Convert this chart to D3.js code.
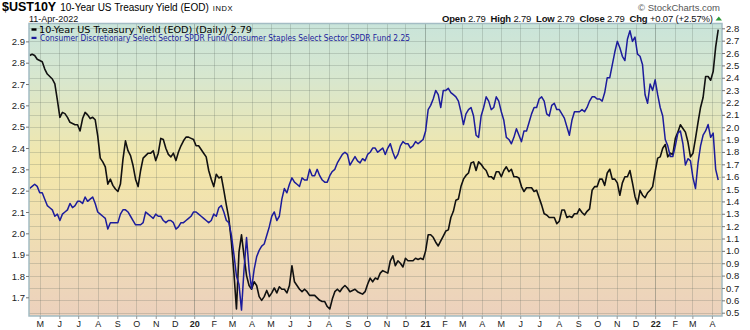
<!DOCTYPE html>
<html>
<head>
<meta charset="utf-8">
<script src="https://cdn.jsdelivr.net/npm/d3@7"></script>
<style>
  html, body { margin: 0; padding: 0; background: #ffffff; }
  svg { display: block; font-family: "Liberation Sans", Arial, sans-serif; }
</style>
</head>
<body>
<svg id="chart" width="750" height="330"></svg>
<script>
// ---- data -------------------------------------------------------------
// Sampled every 4 calendar days from 15-Apr-2019 to 11-Apr-2022
const sampleStart = "2019-04-15";
const sampleEnd = "2022-04-11";
const sampleStepDays = 4;

// 10-Year US Treasury Yield (EOD), right axis
const yield10y = [
  2.58, 2.59, 2.58, 2.55, 2.54, 2.53, 2.47, 2.43, 2.41, 2.39,
  2.35, 2.22, 2.08, 2.12, 2.11, 2.08, 2.04, 2.03, 2.02, 2.02,
  1.97, 2.07, 2.12, 2.10, 2.07, 2.08, 2.06, 1.93, 1.75, 1.72,
  1.68, 1.54, 1.58, 1.53, 1.50, 1.48, 1.54, 1.74, 1.89, 1.81,
  1.77, 1.69, 1.58, 1.52, 1.65, 1.75, 1.77, 1.79, 1.79, 1.81,
  1.73, 1.79, 1.91, 1.90, 1.83, 1.78, 1.76, 1.79, 1.73, 1.80,
  1.85, 1.89, 1.92, 1.92, 1.91, 1.90, 1.85, 1.85, 1.82, 1.79,
  1.76, 1.65, 1.58, 1.52, 1.62, 1.59, 1.60, 1.49, 1.37, 1.26,
  1.07, 0.82, 0.53, 0.99, 1.13, 0.96, 0.80, 0.72, 0.69, 0.75,
  0.72, 0.63, 0.60, 0.63, 0.68, 0.63, 0.66, 0.70, 0.66, 0.71,
  0.69, 0.69, 0.66, 0.72, 0.88, 0.75, 0.72, 0.69, 0.67, 0.69,
  0.67, 0.64, 0.64, 0.64, 0.62, 0.60, 0.59, 0.59, 0.55, 0.53,
  0.61, 0.67, 0.69, 0.67, 0.70, 0.72, 0.70, 0.67, 0.68, 0.69,
  0.67, 0.66, 0.65, 0.67, 0.73, 0.78, 0.75, 0.78, 0.77, 0.82,
  0.84, 0.83, 0.82, 0.92, 0.96, 0.88, 0.92, 0.90, 0.87, 0.94,
  0.92, 0.92, 0.92, 0.94, 0.93, 0.94, 0.93, 1.00, 1.13, 1.13,
  1.11, 1.07, 1.04, 1.08, 1.12, 1.16, 1.17, 1.27, 1.32, 1.41,
  1.42, 1.52, 1.58, 1.61, 1.63, 1.71, 1.72, 1.65, 1.72, 1.70,
  1.67, 1.65, 1.60, 1.60, 1.58, 1.64, 1.64, 1.60, 1.65, 1.68,
  1.64, 1.66, 1.60, 1.60, 1.59, 1.52, 1.48, 1.51, 1.51, 1.51,
  1.48, 1.49, 1.43, 1.37, 1.30, 1.29, 1.27, 1.27, 1.27, 1.22,
  1.24, 1.33, 1.33, 1.27, 1.28, 1.27, 1.30, 1.30, 1.34, 1.31,
  1.29, 1.32, 1.34, 1.49, 1.52, 1.52, 1.58, 1.58, 1.53, 1.63,
  1.66, 1.58, 1.58, 1.55, 1.45, 1.55, 1.60, 1.60, 1.65, 1.55,
  1.44, 1.38, 1.49, 1.45, 1.43, 1.47, 1.49, 1.52, 1.64, 1.75,
  1.76, 1.83, 1.86, 1.76, 1.79, 1.78, 1.91, 1.96, 2.02, 1.99,
  1.96, 1.88, 1.76, 1.79, 1.91, 2.04, 2.16, 2.24, 2.41, 2.41,
  2.38, 2.45, 2.65, 2.79
];

// XLY / XLP ratio, left axis
const discStaplesRatio = [
  2.21, 2.22, 2.23, 2.22, 2.19, 2.19, 2.16, 2.13, 2.12, 2.11,
  2.08, 2.09, 2.06, 2.09, 2.10, 2.11, 2.14, 2.12, 2.13, 2.15,
  2.15, 2.14, 2.17, 2.15, 2.16, 2.17, 2.14, 2.10, 2.09, 2.08,
  2.07, 2.02, 2.05, 2.05, 2.05, 2.05, 2.09, 2.11, 2.11, 2.10,
  2.08, 2.06, 2.04, 2.04, 2.04, 2.05, 2.10, 2.09, 2.08, 2.07,
  2.09, 2.08, 2.08, 2.06, 2.05, 2.06, 2.06, 2.05, 2.02, 2.03,
  2.05, 2.05, 2.06, 2.07, 2.08, 2.10, 2.10, 2.09, 2.08, 2.07,
  2.06, 2.05, 2.06, 2.09, 2.08, 2.12, 2.13, 2.10, 2.06, 2.05,
  1.99, 1.90, 1.80, 1.76, 1.64, 1.83, 1.98, 1.83, 1.74, 1.83,
  1.89, 1.92, 1.94, 1.95, 1.99, 2.03, 2.08, 2.10, 2.06, 2.08,
  2.16, 2.21, 2.19, 2.23, 2.26, 2.24, 2.23, 2.22, 2.26, 2.25,
  2.25, 2.30, 2.27, 2.27, 2.30, 2.27, 2.25, 2.24, 2.24, 2.27,
  2.29, 2.30, 2.33, 2.35, 2.37, 2.38, 2.37, 2.32, 2.34, 2.36,
  2.34, 2.33, 2.35, 2.34, 2.37, 2.38, 2.40, 2.40, 2.38, 2.39,
  2.40, 2.37, 2.40, 2.42, 2.38, 2.35, 2.37, 2.41, 2.43, 2.42,
  2.42, 2.40, 2.41, 2.43, 2.42, 2.43, 2.44, 2.48, 2.58, 2.60,
  2.63, 2.67, 2.65, 2.59, 2.67, 2.67, 2.68, 2.66, 2.65, 2.64,
  2.62, 2.57, 2.51, 2.56, 2.58, 2.59, 2.55, 2.46, 2.45, 2.55,
  2.59, 2.64, 2.62, 2.58, 2.59, 2.64, 2.62, 2.57, 2.53, 2.45,
  2.44, 2.42, 2.45, 2.49, 2.46, 2.43, 2.48, 2.48, 2.52, 2.56,
  2.59, 2.59, 2.63, 2.64, 2.62, 2.56, 2.55, 2.60, 2.61, 2.58,
  2.58, 2.56, 2.54, 2.50, 2.46, 2.53, 2.57, 2.57, 2.57, 2.58,
  2.57, 2.59, 2.62, 2.64, 2.64, 2.63, 2.63, 2.62, 2.66, 2.73,
  2.73, 2.79, 2.85, 2.90, 2.87, 2.83, 2.81, 2.91, 2.95, 2.90,
  2.92, 2.84, 2.83, 2.79, 2.65, 2.61, 2.70, 2.67, 2.72, 2.65,
  2.59, 2.55, 2.44, 2.41, 2.36, 2.36, 2.41, 2.47, 2.48, 2.42,
  2.32, 2.35, 2.34, 2.26, 2.21, 2.33, 2.41, 2.46, 2.48, 2.51,
  2.45, 2.47, 2.30, 2.25
];

// Month labels, May 2019 .. Apr 2022 (January shows the year)
const monthLabels = ["M","J","J","A","S","O","N","D",
  "20","F","M","A","M","J","J","A","S","O","N","D",
  "21","F","M","A","M","J","J","A","S","O","N","D",
  "22","F","M","A"];
const leftTicks = [1.7,1.8,1.9,2.0,2.1,2.2,2.3,2.4,2.5,2.6,2.7,2.8,2.9];
const rightTicks = [0.5,0.6,0.7,0.8,0.9,1.0,1.1,1.2,1.3,1.4,1.5,1.6,1.7,1.8,1.9,2.0,2.1,2.2,2.3,2.4,2.5,2.6,2.7,2.8];

// ---- layout -----------------------------------------------------------
const plot = { left: 29, right: 722, top: 23.5, bottom: 316 };
const parse = d3.utcParse("%Y-%m-%d");
const dates = d3.utcDay.range(parse(sampleStart), d3.utcDay.offset(parse(sampleEnd), 1), sampleStepDays);

const x = d3.scaleUtc()
  .domain([parse("2019-04-14"), parse("2022-04-17")])
  .range([plot.left, plot.right]);
const yRight = d3.scaleLinear().domain([0.5, 2.8]).range([312.7, 28.3]);
const yLeft = d3.scaleLinear().domain([1.7, 2.8]).range([297.3, 62.7]);

const svg = d3.select("#chart");
const defs = svg.append("defs");

const grad = defs.append("linearGradient")
  .attr("id", "bg").attr("x1", 0).attr("y1", 0).attr("x2", 0).attr("y2", 1);
[["0%", "#c9e4da"], ["18%", "#d7e7cf"], ["48%", "#f3e7aa"], ["70%", "#f0dfb2"], ["100%", "#ecd1bd"]]
  .forEach(([o, c]) => grad.append("stop").attr("offset", o).attr("stop-color", c));

defs.append("clipPath").attr("id", "clip")
  .append("rect")
  .attr("x", plot.left).attr("y", plot.top)
  .attr("width", plot.right - plot.left).attr("height", plot.bottom - plot.top);

// plot background
svg.append("rect")
  .attr("x", plot.left).attr("y", plot.top)
  .attr("width", plot.right - plot.left).attr("height", plot.bottom - plot.top)
  .attr("fill", "url(#bg)");

// grid
const grid = svg.append("g").attr("clip-path", "url(#clip)");
grid.selectAll("line.h").data(rightTicks).join("line")
  .attr("class", "h")
  .attr("x1", plot.left).attr("x2", plot.right)
  .attr("y1", d => Math.round(yRight(d)) + 0.5).attr("y2", d => Math.round(yRight(d)) + 0.5)
  .attr("stroke", "rgba(80,95,85,0.22)").attr("stroke-width", 1);

const monthStarts = d3.utcMonth.range(parse("2019-05-01"), parse("2022-04-02"));
grid.selectAll("line.v").data(monthStarts).join("line")
  .attr("class", "v")
  .attr("x1", d => Math.round(x(d)) + 0.5).attr("x2", d => Math.round(x(d)) + 0.5)
  .attr("y1", plot.top).attr("y2", plot.bottom)
  .attr("stroke", d => d.getUTCMonth() === 0 ? "rgba(70,85,75,0.38)" : "rgba(80,95,85,0.22)")
  .attr("stroke-width", 1);

// series
const blackPts = dates.map((d, i) => ({ date: d, v: yield10y[i] }));
const bluePts = dates.map((d, i) => ({ date: d, v: discStaplesRatio[i] }));

const lines = svg.append("g").attr("clip-path", "url(#clip)");
lines.append("path")
  .datum(blackPts)
  .attr("fill", "none").attr("stroke", "#111111").attr("stroke-width", 1.6)
  .attr("stroke-linejoin", "round")
  .attr("d", d3.line().x(d => x(d.date)).y(d => yRight(d.v)));
lines.append("path")
  .datum(bluePts)
  .attr("fill", "none").attr("stroke", "#1c1c9c").attr("stroke-width", 1.5)
  .attr("stroke-linejoin", "round")
  .attr("d", d3.line().x(d => x(d.date)).y(d => yLeft(d.v)));

// frame
svg.append("rect")
  .attr("x", plot.left).attr("y", plot.top)
  .attr("width", plot.right - plot.left).attr("height", plot.bottom - plot.top)
  .attr("fill", "none").attr("stroke", "#a3bcc4").attr("stroke-width", 1.5);

// right axis (yield)
const rAxis = svg.append("g").attr("transform", `translate(${plot.right},0)`)
  .call(d3.axisRight(yRight).tickValues(rightTicks).tickSize(3).tickPadding(1).tickFormat(d3.format(".1f")));
rAxis.select(".domain").remove();
rAxis.selectAll("line").attr("stroke", "#777");
rAxis.selectAll("text").attr("fill", "#222").attr("font-size", "9.5px")
  .attr("font-family", '"Liberation Sans", Arial, sans-serif');

// left axis (ratio)
const lAxis = svg.append("g").attr("transform", `translate(${plot.left},0)`)
  .call(d3.axisLeft(yLeft).tickValues(leftTicks).tickSize(3).tickPadding(1).tickFormat(d3.format(".1f")));
lAxis.select(".domain").remove();
lAxis.selectAll("line").attr("stroke", "#777");
lAxis.selectAll("text").attr("fill", "#222").attr("font-size", "9.5px")
  .attr("font-family", '"Liberation Sans", Arial, sans-serif');

// month axis
const xAxis = svg.append("g").attr("transform", `translate(0,${plot.bottom})`)
  .call(d3.axisBottom(x).tickValues(monthStarts).tickSize(3).tickPadding(2)
    .tickFormat((d, i) => monthLabels[i]));
xAxis.select(".domain").remove();
xAxis.selectAll("line").attr("stroke", "#999");
xAxis.selectAll("text").attr("fill", "#222").attr("font-size", "9px")
  .attr("font-family", '"Liberation Sans", Arial, sans-serif')
  .attr("font-weight", (d, i) => /\d/.test(monthLabels[i]) ? "bold" : "normal");

// header
const hdr = svg.append("text").attr("x", 2).attr("y", 10.8).attr("fill", "#000");
hdr.append("tspan").attr("font-weight", "bold").attr("font-size", "12.5px").text("$UST10Y");
hdr.append("tspan").attr("dx", 4).attr("font-size", "10px").text("10-Year US Treasury Yield (EOD)");
hdr.append("tspan").attr("dx", 4).attr("font-size", "7.5px").attr("letter-spacing", "0.6px").text("INDX");

svg.append("text").attr("x", 29).attr("y", 22).attr("font-size", "9px").attr("fill", "#111")
  .text("11-Apr-2022");

svg.append("text").attr("x", 720).attr("y", 10.5).attr("text-anchor", "end")
  .attr("font-size", "9.5px").attr("fill", "#555").text("\u00A9 StockCharts.com");

const quote = svg.append("text").attr("x", 442).attr("y", 21.5)
  .attr("font-size", "9.5px").attr("fill", "#111")
  .attr("textLength", 271).attr("lengthAdjust", "spacing");
[["Open", " 2.79  "], ["High", " 2.79  "], ["Low", " 2.79  "], ["Close", " 2.79  "], ["Chg", " +0.07 (+2.57%)"]]
  .forEach(([k, v]) => {
    quote.append("tspan").attr("font-weight", "bold").text(k);
    quote.append("tspan").attr("xml:space", "preserve").text(v);
  });
svg.append("path")
  .attr("d", "M715.5,20.5 L722,20.5 L718.75,16.5 Z")
  .attr("fill", "#2f9a3a");

// legend
svg.append("rect").attr("x", 31.5).attr("y", 28.3).attr("width", 5).attr("height", 2.4).attr("fill", "#000");
svg.append("text").attr("x", 39).attr("y", 32.5)
  .attr("font-family", '"DejaVu Sans", Verdana, sans-serif').attr("font-size", "8.6px").attr("fill", "#000")
  .attr("textLength", 213).attr("lengthAdjust", "spacingAndGlyphs")
  .text("10-Year US Treasury Yield (EOD) (Daily) 2.79");
svg.append("rect").attr("x", 31.5).attr("y", 36.8).attr("width", 5).attr("height", 2.2).attr("fill", "#1c1c9c");
svg.append("text").attr("x", 40).attr("y", 40.8)
  .attr("font-family", '"DejaVu Sans", Verdana, sans-serif').attr("font-size", "8px").attr("fill", "#1c1c9c")
  .attr("textLength", 370).attr("lengthAdjust", "spacingAndGlyphs")
  .text("Consumer Discretionary Select Sector SPDR Fund/Consumer Staples Select Sector SPDR Fund 2.25");
</script>
</body>
</html>
